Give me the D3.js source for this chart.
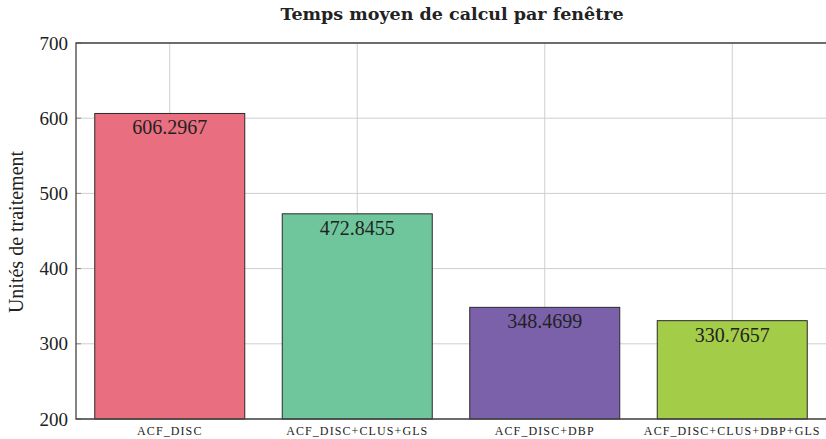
<!DOCTYPE html>
<html>
<head>
<meta charset="utf-8">
<script src="https://cdn.jsdelivr.net/npm/d3@7"></script>
<style>
  html, body { margin: 0; padding: 0; background: #fff; }
  svg { display: block; }
  text { font-family: "Liberation Serif", "DejaVu Serif", serif; fill: #222; }
  text.title { font-family: "DejaVu Serif", serif; font-weight: bold; }
</style>
</head>
<body>
<svg id="chart" width="826" height="439"></svg>
<script>
// Average processing time per window, by method
const categories = ["ACF_DISC", "ACF_DISC+CLUS+GLS", "ACF_DISC+DBP", "ACF_DISC+CLUS+DBP+GLS"];
const values = [606.2967, 472.8455, 348.4699, 330.7657];
const colors = ["#E96E7F", "#6FC69C", "#7B60AA", "#A3CC48"];
const yTicks = [200, 300, 400, 500, 600, 700];

const svg = d3.select("#chart");
const plotLeft = 76, plotRight = 826, plotTop = 43, plotBottom = 419;

const x = d3.scaleBand().domain(categories).range([plotLeft, plotRight]).paddingInner(0.2).paddingOuter(0.1);
const y = d3.scaleLinear().domain([200, 700]).range([plotBottom, plotTop]);

// grid lines
const grid = svg.append("g");
grid.selectAll("line.v").data(categories).join("line")
  .attr("x1", d => x(d) + x.bandwidth() / 2).attr("x2", d => x(d) + x.bandwidth() / 2)
  .attr("y1", plotTop).attr("y2", plotBottom)
  .attr("stroke", "#cfcfcf").attr("stroke-width", 1);
grid.selectAll("line.h").data(yTicks).join("line")
  .attr("x1", plotLeft).attr("x2", plotRight + 10)
  .attr("y1", d => y(d)).attr("y2", d => y(d))
  .attr("stroke", "#cfcfcf").attr("stroke-width", 1);

// bars
svg.append("g").selectAll("rect").data(values).join("rect")
  .attr("x", (d, i) => x(categories[i]))
  .attr("width", x.bandwidth())
  .attr("y", d => y(d))
  .attr("height", d => plotBottom - y(d))
  .attr("fill", (d, i) => colors[i])
  .attr("stroke", "#2a2a2a").attr("stroke-width", 1);

// value labels
svg.append("g").selectAll("text").data(values).join("text")
  .attr("x", (d, i) => x(categories[i]) + x.bandwidth() / 2)
  .attr("y", d => y(d) + 21)
  .attr("text-anchor", "middle")
  .attr("font-size", 20)
  .text(d => d.toFixed(4));

// axes
const yAxis = d3.axisLeft(y).tickValues(yTicks).tickSize(0).tickPadding(8);
const gy = svg.append("g").attr("transform", `translate(${plotLeft},0)`).call(yAxis);
gy.select(".domain").remove();
gy.selectAll("text").attr("font-size", 19).attr("fill", "#222");

// small inner tick marks
svg.append("g").selectAll("line").data(yTicks).join("line")
  .attr("x1", plotLeft).attr("x2", plotLeft + 5)
  .attr("y1", d => y(d)).attr("y2", d => y(d))
  .attr("stroke", "#888");

const xAxis = d3.axisBottom(x).tickSize(0).tickPadding(7);
const gx = svg.append("g").attr("transform", `translate(0,${plotBottom})`).call(xAxis);
gx.select(".domain").remove();
gx.selectAll("text").attr("font-size", 12)
  .attr("fill", "#222").attr("letter-spacing", "1.1px");

// frame
svg.append("path")
  .attr("d", `M${plotRight + 10},${plotTop}H${plotLeft}V${plotBottom}H${plotRight + 10}`)
  .attr("fill", "none").attr("stroke", "#444").attr("stroke-width", 1.3);

// title
svg.append("text")
  .attr("class", "title")
  .attr("x", 452).attr("y", 20)
  .attr("text-anchor", "middle").attr("font-size", 17.5)
  .text("Temps moyen de calcul par fenêtre");

// y-axis title
svg.append("text")
  .attr("transform", `translate(23,232) rotate(-90)`)
  .attr("text-anchor", "middle").attr("font-size", 20)
  .text("Unités de traitement");
</script>
</body>
</html>
